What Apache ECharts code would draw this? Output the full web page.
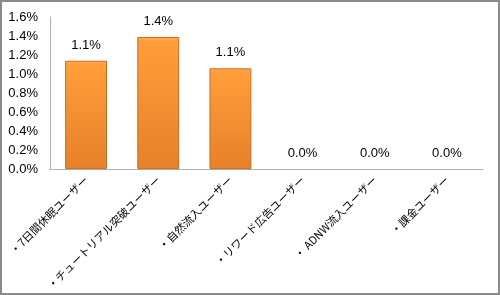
<!DOCTYPE html>
<html><head><meta charset="utf-8">
<script src="https://cdn.jsdelivr.net/npm/echarts@6/dist/echarts.min.js"></script>
<style>
html,body{margin:0;padding:0;background:#fff;}
#c{width:500px;height:295px;box-sizing:border-box;border:2px solid #8a8a8a;}
</style></head>
<body><div id="c"></div>
<script>
const categories = ['・7日間休眠ユーザー','・チュートリアル突破ユーザー','・自然流入ユーザー','・リワード広告ユーザー','・ ADNW流入ユーザー','・課金ユーザー'];
const values = [1.14, 1.39, 1.06, 0, 0, 0];
const yTicks = [0, 0.2, 0.4, 0.6, 0.8, 1.0, 1.2, 1.4, 1.6];

const chart = echarts.init(document.getElementById('c'), null, {renderer:'canvas'});
chart.setOption({
  animation:false,
  grid:{left:48, right:15, top:15, bottom:121},
  xAxis:{
    type:'category', data:categories,
    axisLine:{lineStyle:{color:'#b0b0b0', width:1}},
    axisTick:{show:false},
    axisLabel:{rotate:45, interval:0, margin:9, color:'#000', fontSize:11, fontFamily:'"Noto Sans CJK JP", sans-serif'}
  },
  yAxis:{
    type:'value', min:yTicks[0], max:yTicks[yTicks.length-1], interval:0.2,
    axisLine:{show:true, lineStyle:{color:'#b0b0b0', width:1}},
    axisTick:{show:false},
    splitLine:{show:false},
    axisLabel:{color:'#000', fontSize:13, margin:12, fontFamily:'"Liberation Sans", sans-serif',
      formatter:v=>v.toFixed(1)+'%'}
  },
  series:[{
    type:'bar', barWidth:'58%',
    data:values.map(v=>({value:v, itemStyle:{borderWidth:v>0?1:0}})),
    itemStyle:{
      color:new echarts.graphic.LinearGradient(0,0,0,1,[
        {offset:0, color:'#ffb35c'},
        {offset:0.03, color:'#ff9e3a'},
        {offset:1, color:'#e8802a'}
      ]),
      borderColor:'#c86a20'
    },
    label:{show:true, position:'top', distance:9, color:'#000', fontSize:13,
      fontFamily:'"Liberation Sans", sans-serif',
      formatter:p=>p.value.toFixed(1)+'%'}
  }]
});
</script></body></html>
